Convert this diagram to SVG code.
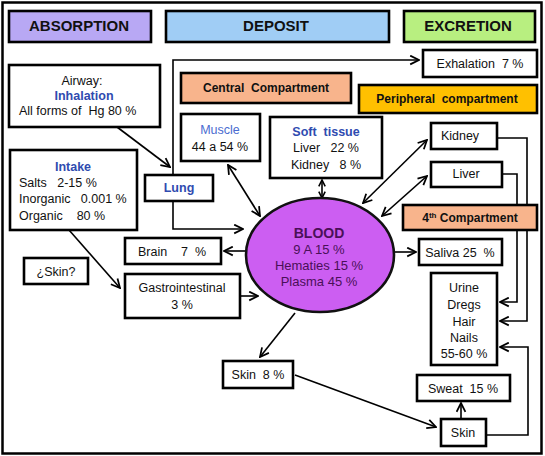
<svg xmlns="http://www.w3.org/2000/svg" width="545" height="456" viewBox="0 0 545 456">
<style>
  text{white-space:pre}
  .box{fill:#fff;stroke:#000;stroke-width:2.6}
  .t{font-family:"Liberation Sans",Arial,sans-serif;font-size:12.5px;fill:#111}
  .m{text-anchor:middle}
  .h{font-family:"Liberation Sans",Arial,sans-serif;font-size:15px;font-weight:bold;fill:#111;text-anchor:middle}
  .b{font-weight:bold}
  .blue{fill:#2f4bb0}
  .lblue{fill:#4a6cd0}
  .c{fill:none;stroke:#000;stroke-width:1.6}
  .bt{font-family:"Liberation Sans",Arial,sans-serif;font-size:13px;fill:#4a1058;text-anchor:middle}
</style>
<defs>
  <marker id="arr" viewBox="0 0 10 10" refX="9" refY="5" markerWidth="11" markerHeight="11" markerUnits="userSpaceOnUse" orient="auto-start-reverse">
    <path d="M1,1 L9,5 L1,9" fill="none" stroke="#000" stroke-width="1.6"/>
  </marker>
  <marker id="sm" viewBox="0 0 10 10" refX="9" refY="5" markerWidth="8" markerHeight="8" markerUnits="userSpaceOnUse" orient="auto-start-reverse">
    <path d="M1,1 L9,5 L1,9" fill="none" stroke="#000" stroke-width="2"/>
  </marker>
</defs>
<rect x="2.5" y="2.5" width="539" height="451" fill="#fff" stroke="#000" stroke-width="2.5"/>

<g id="connectors">
  <polyline class="c" points="173,175 173,60 419,60" marker-end="url(#arr)"/>
  <line class="c" x1="117" y1="127" x2="170" y2="167" marker-end="url(#arr)"/>
  <polyline class="c" points="173,201 173,229 243,229" marker-end="url(#arr)"/>
  <line class="c" x1="69" y1="230" x2="120" y2="288" marker-end="url(#arr)"/>
  <line class="c" x1="246" y1="251" x2="224" y2="251" marker-end="url(#arr)"/>
  <line class="c" x1="240" y1="296" x2="258" y2="296" marker-end="url(#arr)"/>
  <line class="c" x1="228" y1="165" x2="260" y2="216" marker-start="url(#arr)" marker-end="url(#arr)"/>
  <line class="c" x1="322" y1="180" x2="322" y2="198" marker-start="url(#sm)" marker-end="url(#sm)"/>
  <line class="c" x1="363" y1="203" x2="427" y2="140" marker-start="url(#arr)" marker-end="url(#arr)"/>
  <line class="c" x1="382" y1="216" x2="427" y2="176" marker-start="url(#arr)" marker-end="url(#arr)"/>
  <line class="c" x1="394" y1="252" x2="416" y2="252" marker-end="url(#arr)"/>
  <polyline class="c" points="487,138 527,138 527,321 500,321" marker-end="url(#arr)"/>
  <polyline class="c" points="502,174 517,174 517,302 500,302" marker-end="url(#arr)"/>
  <polyline class="c" points="487,435 528,435 528,347 500,347" marker-end="url(#arr)"/>
  <line class="c" x1="461" y1="419" x2="461" y2="403" marker-end="url(#arr)"/>
  <line class="c" x1="295" y1="313" x2="260" y2="357" marker-end="url(#arr)"/>
  <line class="c" x1="295" y1="375" x2="436" y2="427" marker-end="url(#arr)"/>
</g>

<g id="absorption">
  <rect x="9" y="11" width="142" height="31" fill="#b8a8f4" stroke="#000" stroke-width="2.6"/>
  <text class="h" x="79" y="31">ABSORPTION</text>
</g>
<g id="deposit">
  <rect x="166" y="11" width="223" height="31" fill="#a0cdf5" stroke="#000" stroke-width="2.6"/>
  <text class="h" x="276" y="31">DEPOSIT</text>
</g>
<g id="excretion">
  <rect x="404" y="11" width="131" height="31" fill="#b8ef80" stroke="#000" stroke-width="2.6"/>
  <text class="h" x="468" y="31">EXCRETION</text>
</g>

<g id="exhalation">
  <rect class="box" x="423" y="50" width="114" height="27"/>
  <text class="t m" x="480" y="68">Exhalation  7 %</text>
</g>
<g id="airway">
  <rect class="box" x="9" y="65" width="151" height="62"/>
  <text class="t m" x="82" y="85">Airway:</text>
  <text class="t m blue b" x="84" y="100">Inhalation</text>
  <text class="t" x="19" y="115">All forms of  Hg 80 %</text>
</g>
<g id="central">
  <rect x="181" y="73" width="170" height="30" fill="#f8b48c" stroke="#000" stroke-width="2.6"/>
  <text class="t m b" x="266" y="92" style="font-size:12px">Central  Compartment</text>
</g>
<g id="peripheral">
  <rect x="359" y="85" width="178" height="28" fill="#ffc000" stroke="#000" stroke-width="2.6"/>
  <text class="t m b" x="447" y="103" style="font-size:12px">Peripheral  compartment</text>
</g>
<g id="muscle">
  <rect class="box" x="181" y="114" width="79" height="47"/>
  <text class="t m lblue" x="220" y="134">Muscle</text>
  <text class="t m" x="220" y="151">44 a 54 %</text>
</g>
<g id="softtissue">
  <rect class="box" x="270" y="117" width="112" height="61"/>
  <text class="t m blue b" x="326" y="136">Soft  tissue</text>
  <text class="t m" x="326" y="152">Liver   22 %</text>
  <text class="t m" x="326" y="169">Kidney   8 %</text>
</g>
<g id="lung">
  <rect class="box" x="145" y="175" width="68" height="26"/>
  <text class="t m blue b" x="179" y="192">Lung</text>
</g>
<g id="intake">
  <rect class="box" x="10" y="150" width="127" height="80"/>
  <text class="t m blue b" x="73" y="171">Intake</text>
  <text class="t" x="19" y="187">Salts   2-15 %</text>
  <text class="t" x="19" y="203">Inorganic   0.001 %</text>
  <text class="t" x="19" y="220">Organic    80 %</text>
</g>
<g id="skinq">
  <rect class="box" x="24" y="258" width="64" height="26"/>
  <text class="t m" x="56" y="276">¿Skin?</text>
</g>
<g id="brain">
  <rect class="box" x="125" y="238" width="96" height="26"/>
  <text class="t m" x="172" y="256">Brain    7  %</text>
</g>
<g id="gastro">
  <rect class="box" x="125" y="274" width="115" height="44"/>
  <text class="t m" x="182" y="292">Gastrointestinal</text>
  <text class="t m" x="182" y="309">3 %</text>
</g>
<g id="blood">
  <ellipse cx="320" cy="255" rx="74" ry="57" fill="#cc5ef2" stroke="#111" stroke-width="2.6"/>
  <text class="bt b" x="319" y="238" style="font-size:14px">BLOOD</text>
  <text class="bt" x="319" y="254">9 A 15 %</text>
  <text class="bt" x="319" y="270">Hematies 15 %</text>
  <text class="bt" x="319" y="286">Plasma 45 %</text>
</g>
<g id="kidney">
  <rect class="box" x="431" y="123" width="66" height="26"/>
  <text class="t m" x="460" y="140">Kidney</text>
</g>
<g id="liver">
  <rect class="box" x="431" y="162" width="71" height="25"/>
  <text class="t m" x="466" y="178">Liver</text>
</g>
<g id="fourth">
  <rect x="403" y="205" width="134" height="25" fill="#f8b48c" stroke="#000" stroke-width="2.6"/>
  <text class="t m b" x="470" y="222" style="font-size:12px">4<tspan dy="-4" style="font-size:8px">th</tspan><tspan dy="4"> Compartment</tspan></text>
</g>
<g id="saliva">
  <rect class="box" x="419" y="239" width="83" height="26"/>
  <text class="t m" x="460" y="257">Saliva 25  %</text>
</g>
<g id="urine">
  <rect class="box" x="431" y="273" width="66" height="92"/>
  <text class="t m" x="464" y="292">Urine</text>
  <text class="t m" x="464" y="309">Dregs</text>
  <text class="t m" x="464" y="326">Hair</text>
  <text class="t m" x="464" y="342">Nails</text>
  <text class="t m" x="464" y="358">55-60 %</text>
</g>
<g id="sweat">
  <rect class="box" x="417" y="375" width="93" height="26"/>
  <text class="t m" x="463" y="393">Sweat  15 %</text>
</g>
<g id="skin">
  <rect class="box" x="441" y="419" width="45" height="27"/>
  <text class="t m" x="463" y="437">Skin</text>
</g>
<g id="skin8">
  <rect class="box" x="223" y="361" width="70" height="27"/>
  <text class="t m" x="258" y="379">Skin  8 %</text>
</g>
</svg>
